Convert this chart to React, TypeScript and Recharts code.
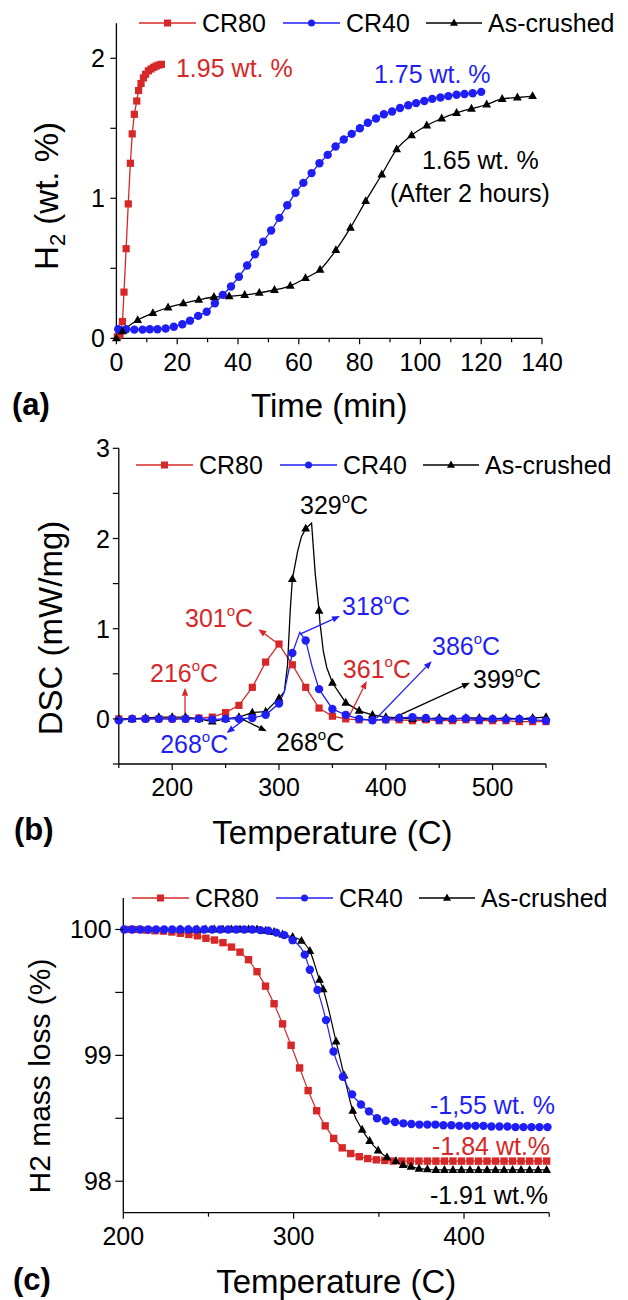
import React from "react";
import { LineChart, Line, XAxis, YAxis, Legend, ReferenceDot, ReferenceLine } from "recharts";

const FONT = '"Liberation Sans", Arial, Helvetica, sans-serif';
const RED = "#d62828";
const BLUE = "#1f1ff5";
const BLACK = "#000000";

// (a) H2 uptake vs time
const timeCR80 = [0.3, 1.2, 2.0, 2.5, 3.2, 3.9, 4.6, 5.2, 5.9, 6.7, 7.3, 8.1, 8.9, 9.6, 10.5, 11.4, 12.3, 13.1, 14.0, 14.8];
const h2CR80 = [0.01, 0.03, 0.12, 0.33, 0.64, 0.96, 1.25, 1.46, 1.6, 1.695, 1.77, 1.82, 1.86, 1.886, 1.91, 1.924, 1.936, 1.945, 1.952, 1.957];
const timeCR40 = [0.6, 3.2, 5.9, 8.6, 11.0, 13.5, 16.2, 18.9, 21.7, 24.2, 26.9, 29.7, 32.4, 35.0, 37.7, 40.3, 43.0, 45.6, 48.3, 50.9, 53.6, 56.2, 58.9, 61.5, 64.2, 66.8, 69.5, 72.1, 74.8, 77.4, 80.1, 82.7, 85.4, 88.0, 90.7, 93.3, 96.0, 98.6, 101.3, 103.9, 106.6, 109.2, 111.9, 114.5, 117.2, 120.0];
const h2CR40 = [0.065, 0.065, 0.062, 0.062, 0.065, 0.065, 0.07, 0.083, 0.1, 0.126, 0.16, 0.19, 0.25, 0.31, 0.37, 0.44, 0.52, 0.6, 0.69, 0.77, 0.86, 0.95, 1.04, 1.11, 1.18, 1.25, 1.31, 1.37, 1.42, 1.46, 1.5, 1.54, 1.57, 1.6, 1.62, 1.645, 1.665, 1.68, 1.695, 1.71, 1.72, 1.73, 1.74, 1.745, 1.75, 1.76];
const timeAs = [0, 2.0, 7.0, 12.0, 17.0, 22.0, 27.1, 32.1, 37.1, 42.2, 47.0, 52.0, 57.2, 62.2, 67.0, 72.2, 77.0, 82.0, 87.3, 92.2, 97.1, 102.1, 107.0, 111.9, 116.8, 121.8, 126.9, 131.9, 136.9];
const h2As = [0.0, 0.05, 0.13, 0.18, 0.22, 0.25, 0.275, 0.295, 0.3, 0.31, 0.325, 0.345, 0.375, 0.43, 0.49, 0.63, 0.79, 0.98, 1.17, 1.35, 1.45, 1.52, 1.57, 1.61, 1.64, 1.67, 1.71, 1.72, 1.73];

// (b) DSC, markers share one temperature grid
const dscTemps = [150, 162.5, 175, 187.5, 200, 212.5, 225, 237.5, 250, 262.5, 275, 287.5, 300, 312.5, 325, 337.5, 350, 362.5, 375, 387.5, 400, 412.5, 425, 437.5, 450, 462.5, 475, 487.5, 500, 512.5, 525, 537.5, 550];
const dscCR80 = [0, 0, 0, 0, 0, 0, 0.01, 0.02, 0.07, 0.15, 0.35, 0.63, 0.83, 0.6, 0.35, 0.12, 0.03, 0, -0.01, -0.01, -0.01, -0.01, -0.02, -0.01, -0.02, -0.02, -0.01, -0.02, -0.02, -0.02, -0.03, -0.03, -0.03];
const dscCR40 = [-0.015, 0, 0, 0, 0, 0, 0, -0.005, 0, 0, 0.01, 0.045, 0.17, 0.73, 0.87, 0.33, 0.11, 0.045, 0, -0.015, -0.005, 0.01, 0.02, 0.01, -0.01, 0, 0.005, -0.01, 0, -0.005, 0, -0.01, -0.02];
const dscAs = [0, 0, 0.01, 0.02, 0.02, 0.02, 0, -0.03, 0, 0.02, 0.07, 0.08, 0.23, 1.55, 2.11, 1.2, 0.4, 0.18, 0.09, 0.045, 0.02, 0.01, 0, 0, 0.01, 0, 0.01, 0.01, 0, 0.01, 0, 0.01, 0.02];
// extra curve points between markers (no symbol)
const dscCR40ExtraT = [305, 319.5, 331];
const dscCR40ExtraV = [0.3, 0.96, 0.58];
const dscAsExtraT = [305, 308, 310.5, 317.5, 321, 330.5, 334, 338.5, 341.5, 344.7];
const dscAsExtraV = [0.3, 0.6, 1.2, 1.86, 2.02, 2.17, 1.6, 1.05, 0.75, 0.57];

// (c) TGA mass loss
const tgaTempCR80 = [203.5, 208.5, 213.5, 218.5, 223.5, 228.5, 233.5, 238.5, 243.5, 248.5, 253.5, 258.5, 263.5, 268.5, 273.5, 278.5, 283.5, 288.5, 293.5, 298.5, 303.5, 308.5, 313.5, 318.5, 323.5, 328.5, 333.5, 338.5, 343.5, 348.5, 353.5, 358.5, 363.5, 368.5, 373.5, 378.5, 383.5, 388.5, 393.5, 398.5, 403.5, 408.5, 413.5, 418.5, 423.5, 428.5, 433.5, 438.5, 443.5, 448.5];
const massCR80 = [100.0, 100.0, 99.995, 99.99, 99.987, 99.98, 99.97, 99.96, 99.95, 99.93, 99.916, 99.895, 99.86, 99.82, 99.76, 99.665, 99.55, 99.41, 99.25, 99.08, 98.9, 98.72, 98.56, 98.44, 98.34, 98.265, 98.22, 98.195, 98.18, 98.17, 98.165, 98.16, 98.16, 98.16, 98.16, 98.16, 98.16, 98.16, 98.16, 98.16, 98.16, 98.16, 98.16, 98.16, 98.16, 98.16, 98.16, 98.16, 98.16, 98.16];
const tgaTempCR40 = [200.5, 205.2, 209.9, 214.6, 219.3, 224.0, 228.7, 233.4, 238.1, 242.8, 247.5, 252.2, 256.9, 261.6, 266.3, 271.0, 275.7, 280.4, 285.1, 289.8, 294.5, 299.4, 306.5, 309.5, 314.0, 319.0, 323.4, 328.9, 334.3, 339.5, 344.2, 348.9, 354.1, 359.5, 364.4, 369.1, 373.8, 378.5, 383.2, 387.9, 392.6, 397.3, 402.0, 406.7, 411.4, 416.1, 420.8, 425.5, 430.2, 434.9, 439.6, 444.3, 449.0];
const massCR40 = [100, 100, 100, 100, 100, 100, 100, 100, 100, 100, 100, 100, 100, 100, 100, 100, 100, 99.995, 99.99, 99.975, 99.955, 99.915, 99.8, 99.68, 99.52, 99.28, 99.03, 98.83, 98.69, 98.61, 98.555, 98.5, 98.48, 98.47, 98.46, 98.455, 98.45, 98.45, 98.45, 98.445, 98.445, 98.44, 98.44, 98.44, 98.44, 98.435, 98.435, 98.435, 98.43, 98.43, 98.43, 98.43, 98.43];
const tgaTempAs = [233.5, 238.5, 243.5, 248.5, 253.5, 258.5, 263.5, 268.5, 273.5, 278.5, 283.5, 288.5, 293.5, 299.4, 304.6, 309.5, 315.2, 317.3, 324.9, 329.6, 334.7, 340.2, 344.6, 349.6, 354.8, 360.0, 364.2, 368.9, 373.6, 378.5, 383.5, 388.5, 393.5, 398.5, 403.5, 408.5, 413.5, 418.5, 423.5, 428.5, 433.5, 438.5, 443.5, 448.5];
const massAs = [100, 100, 100, 100, 100, 100, 100, 100, 100, 100, 99.99, 99.98, 99.96, 99.94, 99.91, 99.83, 99.6, 99.525, 99.11, 98.84, 98.56, 98.41, 98.32, 98.245, 98.19, 98.16, 98.13, 98.115, 98.1, 98.095, 98.09, 98.09, 98.09, 98.09, 98.09, 98.09, 98.09, 98.09, 98.09, 98.09, 98.09, 98.09, 98.09, 98.09];

// axis ticks
const xTicksA = [0, 10, 20, 30, 40, 50, 60, 70, 80, 90, 100, 110, 120, 130, 140];
const xMajorA = [0, 20, 40, 60, 80, 100, 120, 140];
const yTicksA = [0, 0.5, 1, 1.5, 2];
const yMajorA = [0, 1, 2];
const xTicksB = [150, 200, 250, 300, 350, 400, 450, 500, 550];
const xMajorB = [200, 300, 400, 500];
const yTicksB = [-0.5, 0, 0.5, 1, 1.5, 2, 2.5, 3];
const yMajorB = [0, 1, 2, 3];
const xTicksC = [200, 250, 300, 350, 400, 450];
const xMajorC = [200, 300, 400];
const yTicksC = [98, 98.5, 99, 99.5, 100];
const yMajorC = [98, 99, 100];

// annotations
const notesA = [
  { text: "1.95 wt. %", x: 19.6, y: 1.93, color: RED },
  { text: "1.75 wt. %", x: 84.7, y: 1.888, color: BLUE },
  { text: "1.65 wt. %", x: 100.5, y: 1.274, color: BLACK },
  { text: "(After 2 hours)", x: 90.0, y: 1.038, color: BLACK },
];
const peakNotesB = [
  { deg: "329", x: 319.7, y: 2.37, color: BLACK },
  { deg: "301", x: 212.0, y: 1.12, color: RED },
  { deg: "216", x: 179.2, y: 0.51, color: RED },
  { deg: "318", x: 359.0, y: 1.255, color: BLUE },
  { deg: "361", x: 359.8, y: 0.553, color: RED },
  { deg: "386", x: 443.3, y: 0.81, color: BLUE },
  { deg: "399", x: 481.7, y: 0.442, color: BLACK },
  { deg: "268", x: 188.7, y: -0.28, color: BLUE },
  { deg: "268", x: 297.3, y: -0.26, color: BLACK },
];
const arrowsB = [
  { from: [212, 0.01], to: [212, 0.345], color: RED },
  { from: [299.4, 0.83], to: [280.7, 0.995], color: RED },
  { from: [319.7, 0.94], to: [357.1, 1.14], color: BLUE },
  { from: [364.9, 0.01], to: [382.1, 0.42], color: RED },
  { from: [391.5, 0.01], to: [443.0, 0.64], color: BLUE },
  { from: [408.6, 0.02], to: [478.8, 0.4], color: BLACK },
  { from: [268.2, 0.0], to: [251.0, -0.156], color: BLUE },
  { from: [263.5, 0.01], to: [288.5, -0.137], color: BLACK },
];
const notesC = [
  { text: "-1,55 wt. %", x: 380.0, y: 98.606, color: BLUE },
  { text: "-1.84 wt.%", x: 381.2, y: 98.28, color: RED },
  { text: "-1.91 wt.%", x: 380.0, y: 97.891, color: BLACK },
];

const zip = (xs: number[], ys: number[]) => xs.map((x, i) => ({ x, y: ys[i] }));
const merge = (a: { x: number; y: number }[], b: { x: number; y: number }[]) =>
  [...a, ...b].sort((p, q) => p.x - q.x);

type Shape = "square" | "circle" | "triangle";

function Marker({ shape, cx, cy, color, size }: { shape: Shape; cx: number; cy: number; color: string; size: number }) {
  if (shape === "square") {
    return <rect x={cx - size / 2} y={cy - size / 2} width={size} height={size} fill={color} />;
  }
  if (shape === "circle") {
    return <circle cx={cx} cy={cy} r={size / 2} fill={color} />;
  }
  const h = size * 0.9;
  return (
    <polygon
      points={`${cx},${cy - h * 0.62} ${cx - size / 2},${cy + h * 0.38} ${cx + size / 2},${cy + h * 0.38}`}
      fill={color}
    />
  );
}

const dots = (shape: Shape, color: string, size: number) => (p: any) => {
  const key = p.key ?? `d${p.index}`;
  if (p.cx == null || p.cy == null) return <g key={key} />;
  return (
    <g key={key}>
      <Marker shape={shape} cx={p.cx} cy={p.cy} color={color} size={size} />
    </g>
  );
};

const xTick = (majors: number[], gap: number) => (p: any) => {
  const v = p.payload.value;
  const major = majors.includes(v);
  return (
    <g>
      <line x1={p.x} x2={p.x} y1={p.y} y2={p.y + (major ? 6 : 4)} stroke="#000" strokeWidth={1.2} />
      {major && (
        <text x={p.x} y={p.y + gap} dy="0.36em" textAnchor="middle" fontSize={25} fontFamily={FONT} fill="#000">
          {v}
        </text>
      )}
    </g>
  );
};

const yTick = (majors: number[], len: number, gap: number) => (p: any) => {
  const v = p.payload.value;
  const major = majors.includes(v);
  return (
    <g>
      <line x1={p.x - len} x2={p.x} y1={p.y} y2={p.y} stroke="#000" strokeWidth={1.2} />
      {major && (
        <text x={p.x - gap} y={p.y} dy="0.36em" textAnchor="end" fontSize={25} fontFamily={FONT} fill="#000">
          {v}
        </text>
      )}
    </g>
  );
};

const xTitle = (text: string, offset: number) => (p: any) => {
  const vb = p.viewBox;
  return (
    <text x={vb.x + vb.width / 2} y={vb.y + offset} textAnchor="middle" fontSize={33} fontFamily={FONT} fill="#000">
      {text}
    </text>
  );
};

const yTitle = (content: React.ReactNode, bx: number, cy: number, size: number) => () => (
  <text transform={`translate(${bx},${cy}) rotate(-90)`} textAnchor="middle" fontSize={size} fontFamily={FONT} fill="#000">
    {content}
  </text>
);

const Deg = ({ v }: { v: string }) => (
  <>
    {v}
    <tspan fontSize={15} dy={-11}>o</tspan>
    <tspan dy={11}>C</tspan>
  </>
);

const noteShape = (content: React.ReactNode, color: string) => (p: any) => (
  <text x={p.cx} y={p.cy} dy="0.36em" textAnchor="start" fontSize={25} fontFamily={FONT} fill={color}>
    {content}
  </text>
);

const Arrow = (p: any) => {
  const { x1, y1, x2, y2, color } = p;
  const ang = Math.atan2(y2 - y1, x2 - x1);
  const L = 8;
  const W = 3.2;
  const bx = x2 - L * Math.cos(ang);
  const by = y2 - L * Math.sin(ang);
  const nx = -Math.sin(ang) * W;
  const ny = Math.cos(ang) * W;
  return (
    <g>
      <line x1={x1} y1={y1} x2={bx} y2={by} stroke={color} strokeWidth={1.3} />
      <polygon points={`${x2},${y2} ${bx + nx},${by + ny} ${bx - nx},${by - ny}`} fill={color} />
    </g>
  );
};

type LegendItem = { name: string; color: string; shape: Shape; x1: number; x2: number; tx: number };

const LegendRow = ({ items }: { items: LegendItem[] }) => (
  <svg width={628} height={36} style={{ display: "block", overflow: "visible" }}>
    {items.map((it) => (
      <g key={it.name}>
        <line x1={it.x1} x2={it.x2} y1={18} y2={18} stroke={it.color} strokeWidth={1.3} />
        <Marker shape={it.shape} cx={(it.x1 + it.x2) / 2} cy={18} color={it.color} size={it.shape === "triangle" ? 8 : 7} />
        <text x={it.tx} y={18} dy="0.36em" fontSize={25} fontFamily={FONT} fill="#000">
          {it.name}
        </text>
      </g>
    ))}
  </svg>
);

const legendItems = (o: number): LegendItem[] => [
  { name: "CR80", color: RED, shape: "square", x1: 139 - o, x2: 196 - o, tx: 202 - o },
  { name: "CR40", color: BLUE, shape: "circle", x1: 283 - o, x2: 340 - o, tx: 346 - o },
  { name: "As-crushed", color: BLACK, shape: "triangle", x1: 426 - o, x2: 482 - o, tx: 488 - o },
];

const axisStyle = { stroke: "#000", strokeWidth: 1.3 };

function ChartA() {
  return (
    <LineChart width={628} height={430} margin={{ top: 23.3, right: 86, bottom: 0, left: 0 }}>
      <XAxis
        type="number"
        dataKey="x"
        domain={[0, 140]}
        ticks={xTicksA}
        interval={0}
        height={91.7}
        tickSize={0}
        tickMargin={0}
        tickLine={false}
        axisLine={axisStyle}
        tick={xTick(xMajorA, 23.4)}
        label={xTitle("Time (min)", 78.5)}
      />
      <YAxis
        type="number"
        domain={[0, 2.25]}
        ticks={yTicksA}
        interval={0}
        width={116.4}
        tickSize={0}
        tickMargin={0}
        tickLine={false}
        axisLine={axisStyle}
        tick={yTick(yMajorA, 6, 11.4)}
        label={yTitle(
          <>
            H<tspan fontSize={22} dy={7}>2</tspan>
            <tspan dy={-7}> (wt. %)</tspan>
          </>,
          58,
          196,
          33
        )}
      />
      <Legend
        verticalAlign="middle"
        layout="horizontal"
        wrapperStyle={{ top: 5, left: 0, width: 628, height: 36 }}
        content={() => <LegendRow items={legendItems(0)} />}
      />
      <Line data={zip(timeCR80, h2CR80)} dataKey="y" type="linear" stroke={RED} strokeWidth={1.3} dot={dots("square", RED, 7.2)} activeDot={false} isAnimationActive={false} />
      <Line data={zip(timeCR40, h2CR40)} dataKey="y" type="linear" stroke={BLUE} strokeWidth={1.3} dot={dots("circle", BLUE, 8.4)} activeDot={false} isAnimationActive={false} />
      <Line data={zip(timeAs, h2As)} dataKey="y" type="monotone" stroke={BLACK} strokeWidth={1.3} dot={dots("triangle", BLACK, 8.8)} activeDot={false} isAnimationActive={false} />
      {notesA.map((n) => (
        <ReferenceDot key={n.text} x={n.x} y={n.y} r={0} ifOverflow="visible" shape={noteShape(n.text, n.color)} />
      ))}
    </LineChart>
  );
}

function ChartB() {
  const red = zip(dscTemps, dscCR80);
  const blueMarks = zip(dscTemps, dscCR40);
  const blackMarks = zip(dscTemps, dscAs);
  const blueLine = merge(blueMarks, zip(dscCR40ExtraT, dscCR40ExtraV));
  const blackLine = merge(blackMarks, zip(dscAsExtraT, dscAsExtraV));
  return (
    <LineChart width={628} height={440} margin={{ top: 28.3, right: 82, bottom: 0, left: 0 }}>
      <XAxis
        type="number"
        dataKey="x"
        domain={[150, 550]}
        ticks={xTicksB}
        interval={0}
        height={96}
        tickSize={0}
        tickMargin={0}
        tickLine={false}
        axisLine={axisStyle}
        tick={xTick(xMajorB, 22.7)}
        label={xTitle("Temperature (C)", 79.5)}
      />
      <YAxis
        type="number"
        domain={[-0.5, 3]}
        ticks={yTicksB}
        interval={0}
        width={118.8}
        tickSize={0}
        tickMargin={0}
        tickLine={false}
        axisLine={axisStyle}
        tick={yTick(yMajorB, 6, 9)}
        label={yTitle("DSC (mW/mg)", 62, 208, 33)}
      />
      <Legend
        verticalAlign="middle"
        layout="horizontal"
        wrapperStyle={{ top: 27, left: 0, width: 628, height: 36 }}
        content={() => <LegendRow items={legendItems(3)} />}
      />
      <Line data={red} dataKey="y" type="linear" stroke={RED} strokeWidth={1.3} dot={dots("square", RED, 7.2)} activeDot={false} isAnimationActive={false} />
      <Line data={blackLine} dataKey="y" type="linear" stroke={BLACK} strokeWidth={1.3} dot={false} activeDot={false} isAnimationActive={false} />
      <Line data={blackMarks} dataKey="y" stroke="none" dot={dots("triangle", BLACK, 8.8)} activeDot={false} isAnimationActive={false} />
      <Line data={blueLine} dataKey="y" type="linear" stroke={BLUE} strokeWidth={1.3} dot={false} activeDot={false} isAnimationActive={false} />
      <Line data={blueMarks} dataKey="y" stroke="none" dot={dots("circle", BLUE, 8.4)} activeDot={false} isAnimationActive={false} />
      {arrowsB.map((a, i) => (
        <ReferenceLine
          key={`ar${i}`}
          segment={[
            { x: a.from[0], y: a.from[1] },
            { x: a.to[0], y: a.to[1] },
          ]}
          ifOverflow="visible"
          stroke={a.color}
          shape={(p: any) => <Arrow {...p} color={a.color} />}
        />
      ))}
      {peakNotesB.map((n, i) => (
        <ReferenceDot key={`pn${i}`} x={n.x} y={n.y} r={0} ifOverflow="visible" shape={noteShape(<Deg v={n.deg} />, n.color)} />
      ))}
    </LineChart>
  );
}

function ChartC() {
  return (
    <LineChart width={628} height={440} margin={{ top: 38, right: 78.8, bottom: 0, left: 0 }}>
      <XAxis
        type="number"
        dataKey="x"
        domain={[200, 450]}
        ticks={xTicksC}
        interval={0}
        height={87.3}
        tickSize={0}
        tickMargin={0}
        tickLine={false}
        axisLine={axisStyle}
        tick={xTick(xMajorC, 23.3)}
        label={xTitle("Temperature (C)", 80.5)}
      />
      <YAxis
        type="number"
        domain={[97.75, 100.25]}
        ticks={yTicksC}
        interval={0}
        width={123.3}
        tickSize={0}
        tickMargin={0}
        tickLine={false}
        axisLine={axisStyle}
        tick={yTick(yMajorC, 8, 11.6)}
        label={yTitle("H2 mass loss (%)", 50, 216, 30)}
      />
      <Legend
        verticalAlign="middle"
        layout="horizontal"
        wrapperStyle={{ top: 20, left: 0, width: 628, height: 36 }}
        content={() => <LegendRow items={legendItems(7)} />}
      />
      <Line data={zip(tgaTempCR80, massCR80)} dataKey="y" type="linear" stroke={RED} strokeWidth={1.2} dot={dots("square", RED, 7.4)} activeDot={false} isAnimationActive={false} />
      <Line data={zip(tgaTempAs, massAs)} dataKey="y" type="monotone" stroke={BLACK} strokeWidth={1.2} dot={dots("triangle", BLACK, 8.8)} activeDot={false} isAnimationActive={false} />
      <Line data={zip(tgaTempCR40, massCR40)} dataKey="y" type="monotone" stroke={BLUE} strokeWidth={1.2} dot={dots("circle", BLUE, 8.4)} activeDot={false} isAnimationActive={false} />
      {notesC.map((n) => (
        <ReferenceDot key={n.text} x={n.x} y={n.y} r={0} ifOverflow="visible" shape={noteShape(n.text, n.color)} />
      ))}
    </LineChart>
  );
}

export default function App() {
  return (
    <div style={{ position: "relative", width: 628, height: 1300, background: "#fff", fontFamily: FONT, overflow: "hidden" }}>
      <style>{`body{margin:0;background:#fff}`}</style>
      <div style={{ position: "absolute", left: 0, top: 0 }}>
        <ChartA />
      </div>
      <div style={{ position: "absolute", left: 0, top: 420 }}>
        <ChartB />
      </div>
      <div style={{ position: "absolute", left: 0, top: 860 }}>
        <ChartC />
      </div>
      <svg width={628} height={1300} style={{ position: "absolute", left: 0, top: 0, pointerEvents: "none" }}>
        <text x={12} y={415} fontSize={31} fontWeight="bold" fontFamily={FONT}>(a)</text>
        <text x={14} y={840} fontSize={31} fontWeight="bold" fontFamily={FONT}>(b)</text>
        <text x={13} y={1290} fontSize={31} fontWeight="bold" fontFamily={FONT}>(c)</text>
      </svg>
    </div>
  );
}
